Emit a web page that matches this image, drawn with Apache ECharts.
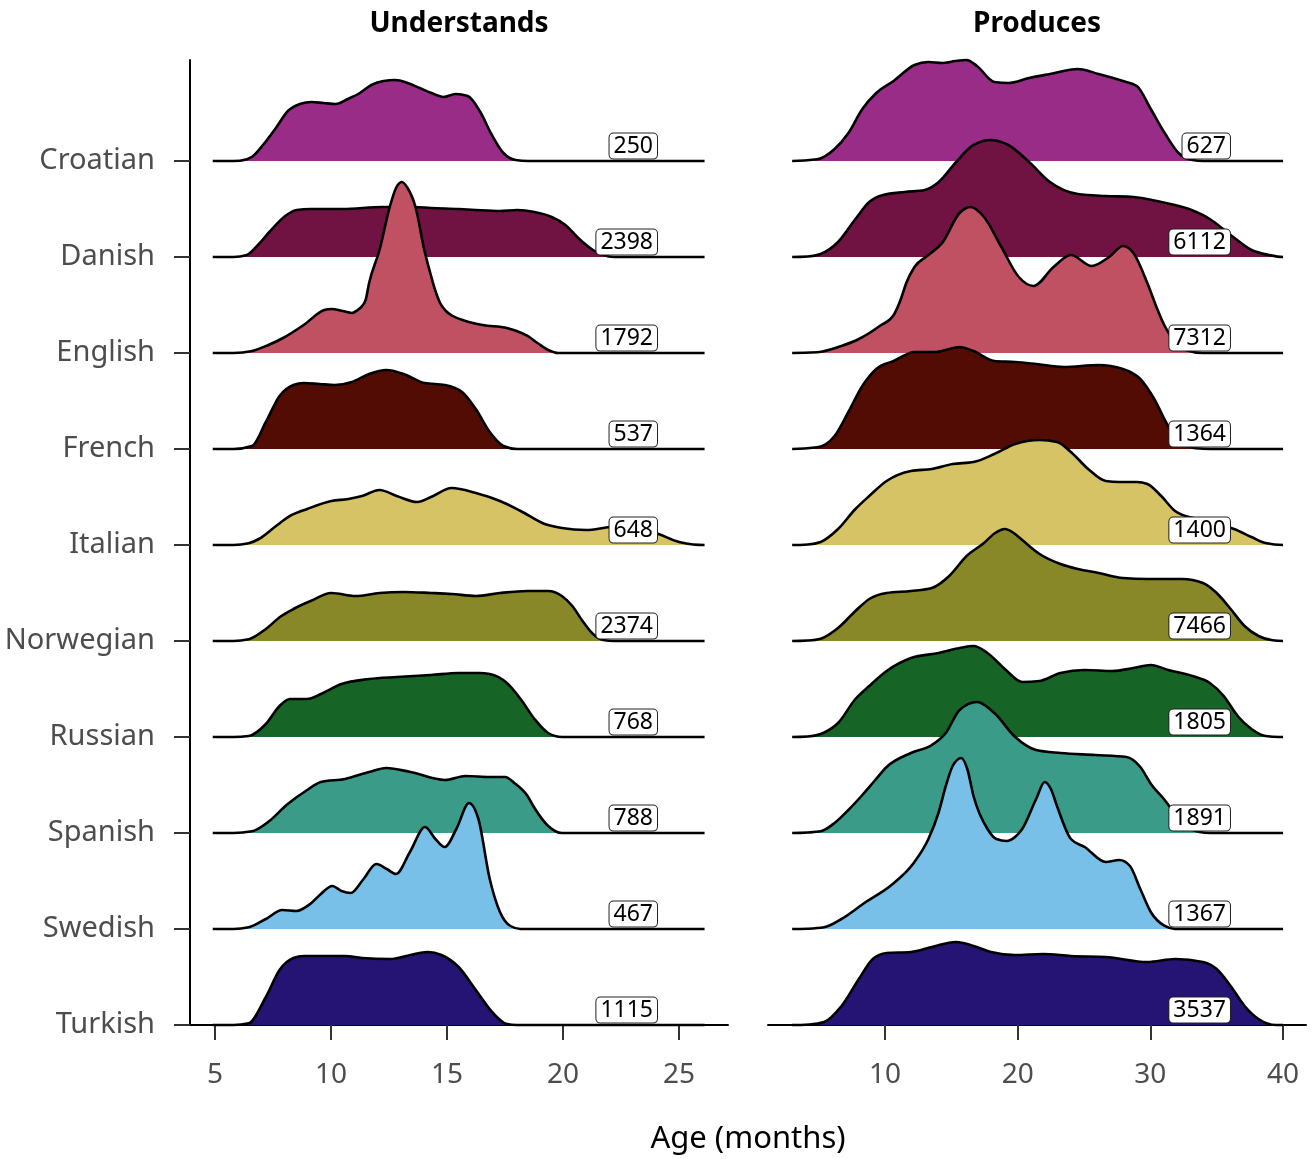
<!DOCTYPE html>
<html><head><meta charset="utf-8">
<script src="https://cdn.jsdelivr.net/npm/echarts@6/dist/echarts.min.js"></script>
<style>html,body{margin:0;padding:0;background:#fff}#c{width:1314px;height:1159px}</style>
</head><body><div id="c"></div>
<script>
const languages = ['Croatian','Danish','English','French','Italian','Norwegian','Russian','Spanish','Swedish','Turkish'];
const colors = ['#982C86','#711342','#BF5163','#520C03','#D6C366','#888829','#166526','#3A9C88','#79C0E8','#251473'];
const understandsCounts = [250,2398,1792,537,648,2374,768,788,467,1115];
const producesCounts = [627,6112,7312,1364,1400,7466,1805,1891,1367,3537];
const understandsTicks = [5,10,15,20,25];
const producesTicks = [10,20,30,40];

// Ridge outlines: [age in months, ridge height]; 96 height units = one row spacing
const understandsCroatian = [[4.9,0],[5.5,0],[6.07,0.3],[6.58,4],[7.1,17],[7.62,33],[8.14,50],[8.66,57],[9.16,59],[9.68,58],[10.2,57],[10.72,62],[11.24,68],[11.74,76],[12.26,80],[12.78,81],[13.3,78],[13.82,73],[14.33,68],[14.85,64],[15.37,67],[15.89,65],[16.41,50],[16.91,27],[17.43,8],[17.95,1],[18.5,0],[26.1,0]];
const understandsDanish = [[4.9,0],[5.8,0],[6.37,2],[6.85,12],[7.34,25],[8.08,42],[8.52,47],[9.12,48],[10.5,48],[12.23,50],[13.57,50],[14.31,49],[15.5,48],[16.24,47],[17.28,46],[18.02,47],[18.77,45],[19.51,40],[20.1,32],[20.7,18],[21.29,7],[21.73,2],[22.18,0],[26.1,0]];
const understandsEnglish = [[4.9,0],[5.8,0],[6.6,2],[7.3,8],[7.93,15],[8.82,28],[9.71,43],[10.01,44],[10.5,42],[10.9,40],[11.15,43],[11.34,47],[11.49,53],[11.64,70],[12.09,103],[12.53,146],[12.8,165],[13.05,171],[13.3,165],[13.64,146],[14.02,103],[14.3,78],[14.5,62],[14.7,50],[14.95,42],[15.25,37],[15.8,32],[16.54,28],[17.58,25],[18.0,22],[18.47,17],[18.9,10],[19.36,3],[19.8,0],[26.1,0]];
const understandsFrench = [[4.9,0],[5.8,0],[6.59,3],[7.19,27],[7.78,53],[8.38,64],[8.82,66],[9.5,65],[10.16,64],[10.9,67],[11.64,75],[12.38,79],[13.13,75],[14.02,66],[14.91,64],[15.65,57],[16.24,40],[16.84,17],[17.43,3],[18.02,0],[26.1,0]];
const understandsItalian = [[4.9,0],[5.8,0],[6.45,1.7],[6.89,6],[7.63,19],[8.23,29],[8.97,36],[10.01,44],[10.75,46],[11.34,49],[12.09,55],[12.83,49],[13.72,43],[14.31,48],[15.2,57],[16.24,52],[17.28,44],[18.17,34],[19.21,21],[19.95,17],[20.99,15],[22.03,18],[23,19],[24.11,11],[25,3],[25.6,0.5],[26.1,0]];
const understandsNorwegian = [[4.9,0],[5.8,0],[6.45,1.7],[7.19,12],[7.8,24],[8.38,32],[9.12,40],[10.01,48],[11.05,45],[12.09,48],[13.13,49],[14.31,48],[15.2,47],[16.24,45],[17.28,48],[18.47,50],[19.36,50],[19.95,45],[20.4,35],[20.84,20],[21.29,7],[21.73,1],[22.18,0],[26.1,0]];
const understandsRussian = [[4.9,0],[5.8,0],[6.45,1],[7.19,13],[7.78,31],[8.23,38],[8.97,38],[9.56,43],[10.45,53],[11.64,58],[12.83,60],[14.31,62],[15.5,64],[16.4,64],[16.84,63],[17.58,54],[18.17,38],[18.77,18],[19.36,4],[19.95,0],[26.1,0]];
const understandsSpanish = [[4.9,0],[5.8,0],[6.59,1.7],[7.34,12],[8.08,28],[8.97,43],[9.56,51],[10.6,54],[11.64,61],[12.38,65],[13.42,61],[14.91,53],[15.8,57],[16.84,56],[17.5,56],[17.9,50],[18.47,37],[18.77,25],[19.36,7],[19.95,0],[26.1,0]];
const understandsSwedish = [[4.9,0],[5.8,0],[6.45,1.7],[7.19,10],[7.9,19],[8.5,18],[9.1,25],[9.56,35],[10.05,43],[10.45,38],[10.85,36],[11.4,50],[11.95,65],[12.4,60],[12.8,55],[13.4,77],[14.05,102],[14.5,90],[14.9,82],[15.4,100],[15.95,126],[16.35,110],[16.84,50],[17.28,17],[17.73,3],[18.17,0],[26.1,0]];
const understandsTurkish = [[4.9,0],[5.8,0],[6.45,1.7],[7.19,28],[7.78,55],[8.38,67],[8.82,69],[10.6,69],[11.34,67],[12.53,66],[13.42,70],[14.16,73],[14.76,70],[15.5,58],[16.24,35],[16.98,12],[17.58,1],[18,0],[26.1,0]];

const producesCroatian = [[3,0],[4.89,1.7],[6.2,12],[7.24,28],[8.29,52],[9.34,68],[10.65,80],[12.22,96],[13.27,99],[14.31,98],[15.3,100],[16.15,101],[16.93,95],[18.24,79],[19.29,78],[20.86,83],[22.43,87],[24.53,92],[26.1,87],[27.93,80],[28.98,75],[30.03,52],[31.08,28],[32.12,8],[33.17,1],[34,0],[40,0]];
const producesDanish = [[3,0],[4.2,0.5],[5.15,3],[6.46,15],[7.77,38],[8.81,55],[9.86,62],[11.5,65],[13.0,67],[14.05,75],[15.36,95],[16.67,112],[17.98,117],[19.29,112],[20.86,95],[22.43,75],[24.53,63],[26.63,61],[28.72,60],[30.82,55],[32.91,48],[34.48,38],[36.05,22],[37.62,7],[38.93,2],[40,0]];
const producesEnglish = [[3,0],[4.89,0.7],[6.72,7],[8.03,14],[9.6,27],[10.65,38],[11.17,53],[11.6,70],[12.22,86],[13.27,98],[14.31,110],[15.62,140],[16.45,146],[17.46,136],[18.77,106],[20.08,76],[21.2,67],[22.7,86],[24.01,98],[25.58,87],[26.89,96],[27.93,107],[28.72,100],[29.77,70],[30.55,43],[31.08,27],[31.8,12],[32.65,3],[33.96,0],[40,0]];
const producesFrench = [[3,0],[4.89,1.7],[6.2,13],[7.24,37],[8.29,63],[9.34,80],[10.65,88],[12.22,97],[13.79,97],[15.62,102],[16.67,98],[18.24,88],[19.81,87],[21.39,85],[23.48,82],[26.1,84],[27.93,80],[29.24,70],[30.29,50],[31.34,23],[32.39,7],[33.43,0.7],[34.5,0],[40,0]];
const producesItalian = [[3,0],[4.2,0.5],[5.15,3],[6.46,16],[7.77,36],[8.81,49],[10.12,64],[11.96,74],[13.53,76],[15.1,81],[16.67,83],[18.24,91],[19.81,101],[21.65,105],[22.96,103],[24.01,93],[25.31,76],[26.63,64],[27.67,63],[28.98,63],[29.77,61],[30.82,49],[31.86,34],[33.5,26],[35,21],[36.31,16],[37.62,8],[38.67,2],[40,0]];
const producesNorwegian = [[3,0],[4.2,0.5],[5.15,2.3],[6.46,13],[7.77,30],[8.81,42],[10.12,48],[11.96,50],[13.53,53],[14.84,65],[16.15,85],[17.46,98],[18.3,108],[19.03,112],[19.7,108],[20.34,101],[21.65,87],[23.22,77],[24.53,72],[26.1,68],[27.93,63],[29.77,62],[32.39,62],[33.96,58],[35.0,48],[36.05,32],[37.1,15],[38.15,5],[39.2,0.7],[40,0]];
const producesRussian = [[3,0],[4.2,0.5],[5.15,3],[6.46,14],[7.77,38],[8.81,51],[10.12,66],[11.96,79],[14.05,84],[15.62,89],[16.67,91],[17.72,84],[19.03,68],[20.34,55],[21.65,56],[23.22,64],[25.05,67],[27.15,66],[28.72,69],[30.03,72],[31.34,67],[33.17,61],[34.48,54],[35.53,41],[36.58,21],[37.62,8],[38.67,1],[39.72,0],[40,0]];
const producesSpanish = [[3,0],[4.2,0.5],[5.15,1.7],[6.2,10],[7.24,23],[8.29,38],[9.2,52],[10.12,66],[11.96,80],[13.53,88],[14.58,100],[15.62,123],[16.93,131],[18.24,120],[19.81,96],[21.39,83],[23.22,80],[25.84,78],[28.2,76],[29.24,66],[30.1,48],[31.08,33],[32.39,10],[33.7,1],[34.5,0],[40,0]];
const producesSwedish = [[3,0],[4.2,0.3],[5.41,1.7],[6.72,10],[8.55,27],[10.39,43],[12.22,67],[13.27,90],[14.05,117],[14.58,143],[15.1,163],[15.75,171],[16.2,160],[16.67,133],[17.72,100],[18.4,90],[19.16,88],[19.8,92],[20.34,100],[21.39,130],[22.04,147],[22.5,140],[22.96,123],[24.01,90],[25.05,82],[26.63,67],[27.67,69],[28.46,63],[29.24,40],[30.03,17],[31.08,3],[31.86,0],[40,0]];
const producesTurkish = [[3,0],[4.3,0.5],[5.41,3],[6.72,19],[8.03,46],[9.08,66],[10.12,72],[11.96,73],[13.53,78],[15.36,83],[16.67,79],[17.98,73],[19.81,70],[21.91,71],[24.01,69],[26.63,68],[29.77,63],[31.86,66],[33.96,63],[35.0,56],[36.05,39],[37.1,19],[38.15,6],[39.46,0],[40,0]];

const understandsCurves = [understandsCroatian,understandsDanish,understandsEnglish,understandsFrench,understandsItalian,understandsNorwegian,understandsRussian,understandsSpanish,understandsSwedish,understandsTurkish];
const producesCurves = [producesCroatian,producesDanish,producesEnglish,producesFrench,producesItalian,producesNorwegian,producesRussian,producesSpanish,producesSwedish,producesTurkish];

const UNITS_PER_ROW = 96;
const FONT = '"Noto Sans", sans-serif';
const nRows = languages.length;
const rowOf = i => nRows - 1 - i;
const rowTicks = languages.map((_, i) => i);

// monotone cubic (Steffen) path through pixel points
function smoothPath(p) {
  const n = p.length;
  const sgn = v => (v > 0) - (v < 0);
  const s = [];
  for (let k = 0; k < n - 1; k++) {
    const h = p[k + 1][0] - p[k][0];
    s.push(h ? (p[k + 1][1] - p[k][1]) / h : 0);
  }
  const m = new Array(n).fill(0);
  for (let k = 1; k < n - 1; k++) {
    const h0 = p[k][0] - p[k - 1][0], h1 = p[k + 1][0] - p[k][0];
    const s0 = s[k - 1], s1 = s[k];
    const q = (s0 * h1 + s1 * h0) / (h0 + h1);
    m[k] = (sgn(s0) + sgn(s1)) * Math.min(Math.abs(s0), Math.abs(s1), 0.5 * Math.abs(q)) || 0;
  }
  let d = 'M' + p[0][0] + ' ' + p[0][1];
  for (let k = 0; k < n - 1; k++) {
    const dx = (p[k + 1][0] - p[k][0]) / 3;
    d += ' C' + (p[k][0] + dx) + ' ' + (p[k][1] + dx * m[k]) + ' ' +
         (p[k + 1][0] - dx) + ' ' + (p[k + 1][1] - dx * m[k + 1]) + ' ' +
         p[k + 1][0] + ' ' + p[k + 1][1];
  }
  return d;
}

const series = [];
function addRidges(curves, axisIdx) {
  series.push({
    type: 'custom', xAxisIndex: axisIdx, yAxisIndex: axisIdx, z: 2, silent: true, animation: false,
    data: curves.map((c, i) => [c[0][0], rowOf(i), i]),
    renderItem(params, api) {
      const i = api.value(2), row = rowOf(i), curve = curves[i];
      const pts = curve.map(([x, h]) => api.coord([x, row + h / UNITS_PER_ROW]));
      const d = smoothPath(pts);
      return { type: 'group', children: [
        { type: 'path', shape: { pathData: d + ' Z' }, style: { fill: colors[i], stroke: null } },
        { type: 'path', shape: { pathData: d }, style: { fill: null, stroke: '#000', lineWidth: 2.6, lineJoin: 'round' } }
      ]};
    }
  });
}
function addLabels(counts, axisIdx, labelX) {
  series.push({
    type: 'custom', xAxisIndex: axisIdx, yAxisIndex: axisIdx, z: 50, silent: true, animation: false,
    data: counts.map((c, i) => [labelX, rowOf(i) + 0.155, c]),
    renderItem(params, api) {
      const p = api.coord([api.value(0), api.value(1)]);
      return { type: 'text', x: p[0], y: p[1], style: {
        text: String(api.value(2)), fill: '#000', font: '23px "Noto Sans"', lineHeight: 23,
        align: 'right', verticalAlign: 'middle', backgroundColor: '#fff',
        borderColor: '#222', borderWidth: 1, borderRadius: 4, padding: [1, 4]
      }};
    }
  });
}
addRidges(understandsCurves, 0);
addRidges(producesCurves, 1);
addLabels(understandsCounts, 0, 24.05);
addLabels(producesCounts, 1, 36.0);

function xAxisCfg(idx, min, max, ticks) {
  return {
    gridIndex: idx, type: 'value', min, max,
    axisLine: { show: true, onZero: false, lineStyle: { color: '#000', width: 2 } },
    axisTick: { show: true, length: 15, customValues: ticks, lineStyle: { color: '#333', width: 2 } },
    axisLabel: { customValues: ticks, color: '#4d4d4d', fontSize: 28, fontFamily: FONT, margin: 36 },
    splitLine: { show: false }
  };
}
function yAxisCfg(idx, showAxis) {
  return {
    gridIndex: idx, type: 'value', min: 0, max: 10.052,
    axisLine: { show: showAxis, lineStyle: { color: '#000', width: 2 } },
    axisTick: { show: showAxis, length: 16, customValues: rowTicks, lineStyle: { color: '#333', width: 2 } },
    axisLabel: { show: showAxis, customValues: rowTicks, color: '#4d4d4d', fontSize: 29, fontFamily: FONT, margin: 35,
      padding: [9, 0, 0, 0],
      formatter: v => languages[nRows - 1 - Math.round(v)] || '' },
    splitLine: { show: false }
  };
}

const chart = echarts.init(document.getElementById('c'), null, { renderer: 'canvas' });
chart.setOption({
  animation: false,
  backgroundColor: '#fff',
  title: [
    { text: 'Understands', left: 459, top: 10, padding: 0, textAlign: 'center', textStyle: { fontSize: 28, fontWeight: 'bold', color: '#000', fontFamily: FONT } },
    { text: 'Produces', left: 1037, top: 10, padding: 0, textAlign: 'center', textStyle: { fontSize: 28, fontWeight: 'bold', color: '#000', fontFamily: FONT } },
    { text: 'Age (months)', left: 748, top: 1124, padding: 0, textAlign: 'center', textStyle: { fontSize: 31, fontWeight: 'normal', color: '#000', fontFamily: FONT } }
  ],
  grid: [
    { left: 190, width: 538, top: 60, height: 965 },
    { left: 768, width: 538, top: 60, height: 965 }
  ],
  xAxis: [xAxisCfg(0, 3.92, 27.11, understandsTicks), xAxisCfg(1, 1.18, 41.73, producesTicks)],
  yAxis: [yAxisCfg(0, true), yAxisCfg(1, false)],
  series
});
</script></body></html>
